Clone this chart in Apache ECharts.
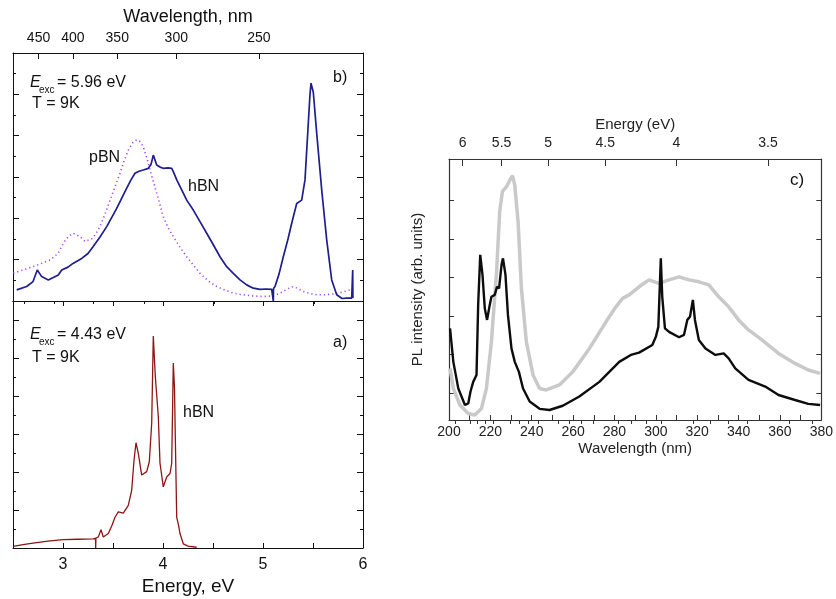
<!DOCTYPE html>
<html>
<head>
<meta charset="utf-8">
<script src="https://cdn.jsdelivr.net/npm/echarts@6/dist/echarts.min.js"></script>
<style>html,body{margin:0;padding:0;background:#fff}#c{width:836px;height:599px}</style>
</head>
<body>
<div id="c"></div>
<script>
// ---- Panel b) : Eexc = 5.96 eV (energy eV, intensity arb.)
const bHbnE = [2.537,2.637,2.70,2.743,2.787,2.853,2.953,2.987,3.05,3.10,3.187,3.25,3.30,3.37,3.437,3.537,3.637,3.68,3.72,3.76,3.803,3.853,3.88,3.903,3.937,3.97,4.003,4.05,4.087,4.103,4.14,4.187,4.237,4.303,4.37,4.437,4.503,4.57,4.637,4.703,4.77,4.837,4.903,4.97,5.03,5.087,5.103,5.105,5.12,5.16,5.203,5.25,5.287,5.337,5.387,5.42,5.453,5.47,5.48,5.49,5.503,5.537,5.587,5.637,5.687,5.737,5.79,5.837,5.887,5.897,5.899];
const bHbnI = [0.27,0.35,0.47,0.75,0.59,0.51,0.63,0.75,0.82,0.91,1.03,1.15,1.31,1.55,1.80,2.24,2.73,2.93,3.09,3.14,3.17,3.21,3.30,3.53,3.29,3.24,3.21,3.22,3.21,3.13,2.92,2.69,2.44,2.20,1.92,1.64,1.36,1.07,0.83,0.67,0.51,0.39,0.31,0.28,0.29,0.28,0.0,0.30,0.35,0.65,1.07,1.50,1.88,2.36,2.44,2.93,4.30,5.00,5.27,5.25,5.05,4.06,2.69,1.48,0.51,0.15,0.06,0.07,0.07,0.75,0.07];
const bPbnE = [2.503,2.60,2.70,2.87,2.95,3.003,3.05,3.10,3.17,3.22,3.30,3.37,3.42,3.47,3.52,3.57,3.61,3.653,3.70,3.737,3.77,3.803,3.84,3.87,3.937,4.003,4.05,4.103,4.17,4.237,4.37,4.45,4.537,4.62,4.703,4.80,4.903,5.0,5.103,5.15,5.203,5.25,5.303,5.35,5.403,5.47,5.537,5.62,5.703,5.79,5.87];
const bPbnI = [0.67,0.75,0.83,0.99,1.15,1.40,1.55,1.64,1.56,1.44,1.52,1.80,2.10,2.44,2.76,3.09,3.38,3.65,3.84,3.90,3.86,3.73,3.45,3.17,2.61,2.04,1.78,1.56,1.30,1.07,0.67,0.49,0.35,0.26,0.19,0.15,0.12,0.11,0.12,0.17,0.23,0.30,0.35,0.30,0.23,0.18,0.15,0.15,0.17,0.21,0.27];
// ---- Panel a) : Eexc = 4.43 eV
const aHbnE = [2.503,2.60,2.70,2.85,3.0,3.15,3.30,3.325,3.327,3.329,3.353,3.38,3.403,3.453,3.49,3.52,3.553,3.603,3.653,3.687,3.71,3.73,3.753,3.787,3.837,3.863,3.887,3.903,3.923,3.953,3.97,4.003,4.037,4.07,4.087,4.103,4.115,4.123,4.137,4.155,4.17,4.203,4.25,4.337];
const aHbnI = [0.04,0.09,0.13,0.18,0.22,0.23,0.24,0.25,0.0,0.26,0.29,0.48,0.29,0.38,0.60,0.81,0.95,0.92,1.12,1.52,2.31,2.77,2.49,1.92,2.01,2.27,3.29,5.58,4.52,3.46,2.23,1.61,1.87,1.96,2.23,4.87,4.20,2.93,0.81,0.60,0.38,0.11,0.05,0.02];
// ---- Panel c) : wavelength nm
const cBlackNm = [200.5,202.1,204.5,207.7,209.3,210.4,211.7,213.3,214.1,215.1,216.2,217.3,218.4,219.7,220.5,222.1,223.2,224.2,225.4,226.1,227.3,228.5,230.2,231.8,233.8,235.8,239.0,243.8,248.6,255.0,263.0,272.7,282.3,287.9,291.9,298.3,300.0,301.2,302.4,303.1,304.4,306.4,311.2,313.6,315.2,316.5,317.9,318.9,320.8,324.0,328.8,332.8,335.2,338.4,344.8,352.9,359.3,367.3,373.7,379.4];
const cBlackI = [2.38,1.51,0.82,0.39,0.43,0.74,0.99,1.17,2.99,4.29,3.77,2.90,2.60,2.99,3.20,3.25,3.46,3.42,4.03,4.20,3.77,2.73,1.86,1.51,1.25,0.82,0.48,0.29,0.26,0.37,0.61,0.99,1.51,1.69,1.75,1.95,2.16,2.42,4.20,3.20,2.38,2.29,2.15,2.21,2.60,2.68,3.12,2.60,2.08,1.86,1.69,1.73,1.60,1.34,1.04,0.87,0.65,0.52,0.42,0.39];
const cGrayNm = [200.5,202.1,205.3,209.3,212.5,215.7,218.1,220.5,223.0,224.5,225.8,227.8,229.4,230.7,231.8,233.4,235.0,237.4,240.6,243.8,247.0,253.4,259.8,267.9,275.9,280.7,283.9,287.1,291.9,296.7,301.5,306.4,311.2,316.0,320.8,325.6,330.4,335.2,340.0,344.8,351.3,359.3,367.3,373.7,379.4];
const cGrayI = [1.34,0.82,0.39,0.17,0.13,0.30,0.82,2.03,3.85,5.41,5.93,6.06,6.23,6.35,6.10,5.15,3.42,2.03,1.17,0.82,0.78,0.91,1.25,1.86,2.55,2.94,3.16,3.25,3.46,3.64,3.55,3.64,3.72,3.64,3.59,3.51,3.20,2.94,2.60,2.34,2.08,1.73,1.47,1.30,1.21];
// ---- tick labels
const wavelengthMajor = [450,400,350,300,250];
const wavelengthMinor = [475,425,375,325,275,225];
const energyMajor = [6,5.5,5,4.5,4,3.5];
const energyMinor = [6.1,5.9,5.8,5.7,5.6,5.4,5.3,5.2,5.1,4.9,4.8,4.7,4.6,4.4,4.3,4.2,4.1,3.9,3.8,3.7,3.6,3.4,3.3];
const cYTicks = [0.7,1.7,2.7,3.7,4.7,5.7];

const HC = 1239.84;
const FONT = 'Liberation Sans, Arial, sans-serif';
const zip = (xs, ys) => xs.map((x, i) => [x, ys[i]]);
const frameL = {show:true, onZero:false, lineStyle:{color:'#111', width:1}};
const frameR = {show:true, onZero:false, lineStyle:{color:'#333', width:1.2}};

const chart = echarts.init(document.getElementById('c'), null, {renderer:'canvas'});
const option = {
  animation:false,
  backgroundColor:'#fff',
  grid:[
    {left:13, top:53, width:350, height:248},
    {left:13, top:301, width:350, height:247},
    {left:449, top:159, width:374, height:261}
  ],
  xAxis:[
    {gridIndex:0, type:'value', position:'bottom', min:2.5, max:6, axisLine:frameL, axisTick:{show:false}, axisLabel:{show:false}, splitLine:{show:false}},
    {gridIndex:0, type:'value', position:'top', min:2.5, max:6, axisLine:frameL,
     name:'Wavelength, nm', nameLocation:'middle', nameGap:27, nameTextStyle:{fontFamily:FONT, fontSize:18, color:'#111'},
     axisTick:{inside:true, length:6, lineStyle:{color:'#111'}, customValues: wavelengthMajor.map(w => HC / w)},
     axisLabel:{fontFamily:FONT, fontSize:14, color:'#111', margin:8, customValues: wavelengthMajor.map(w => HC / w), formatter: v => String(Math.round(HC / v))},
     splitLine:{show:false}},
    {gridIndex:0, type:'value', position:'top', min:2.5, max:6, axisLine:{show:false},
     axisTick:{inside:true, length:3, lineStyle:{color:'#111'}, customValues: wavelengthMinor.map(w => HC / w)},
     axisLabel:{show:false}, splitLine:{show:false}},
    {gridIndex:1, type:'value', position:'bottom', min:2.5, max:6, interval:0.5, axisLine:frameL,
     name:'Energy, eV', nameLocation:'middle', nameGap:29, nameTextStyle:{fontFamily:FONT, fontSize:19, color:'#111'},
     axisTick:{inside:true, length:5, lineStyle:{color:'#111'}},
     axisLabel:{fontFamily:FONT, fontSize:16, color:'#111', margin:9, showMinLabel:true, showMaxLabel:true, formatter: v => (Math.abs(v - Math.round(v)) < 1e-6 && v > 2.5) ? String(Math.round(v)) : ''},
     splitLine:{show:false}},
    {gridIndex:1, type:'value', position:'top', min:2.5, max:6, interval:0.5, axisLine:frameL,
     axisTick:{inside:true, length:5, lineStyle:{color:'#111'}}, axisLabel:{show:false}, splitLine:{show:false}},
    {gridIndex:2, type:'value', position:'bottom', min:200, max:380, interval:10, axisLine:frameR,
     name:'Wavelength (nm)', nameLocation:'middle', nameGap:21, nameTextStyle:{fontFamily:FONT, fontSize:15, color:'#222'},
     axisTick:{inside:true, length:5, lineStyle:{color:'#333'}},
     axisLabel:{fontFamily:FONT, fontSize:14, color:'#222', margin:5, showMinLabel:true, showMaxLabel:true, formatter: v => (Math.round(v) % 20 === 0) ? String(Math.round(v)) : ''},
     splitLine:{show:false}},
    {gridIndex:2, type:'value', position:'top', min:200, max:380, axisLine:frameR,
     name:'Energy (eV)', nameLocation:'middle', nameGap:27, nameTextStyle:{fontFamily:FONT, fontSize:15, color:'#222'},
     axisTick:{inside:true, length:7, lineStyle:{color:'#333'}, customValues: energyMajor.map(e => HC / e)},
     axisLabel:{fontFamily:FONT, fontSize:14, color:'#222', margin:9, customValues: energyMajor.map(e => HC / e), formatter: v => String(Math.round(HC / v * 10) / 10)},
     splitLine:{show:false}},
    {gridIndex:2, type:'value', position:'top', min:200, max:380, axisLine:{show:false},
     axisTick:{inside:true, length:4, lineStyle:{color:'#333'}, customValues: energyMinor.map(e => HC / e)},
     axisLabel:{show:false}, splitLine:{show:false}}
  ],
  yAxis:[
    {gridIndex:0, type:'value', position:'left', min:0, max:6, interval:1, axisLine:frameL, axisTick:{inside:true, length:6, lineStyle:{color:'#111'}}, minorTick:{show:true, splitNumber:2, length:3, lineStyle:{color:'#111'}}, axisLabel:{show:false}, splitLine:{show:false}},
    {gridIndex:0, type:'value', position:'right', min:0, max:6, interval:1, axisLine:frameL, axisTick:{inside:true, length:6, lineStyle:{color:'#111'}}, minorTick:{show:true, splitNumber:2, length:3, lineStyle:{color:'#111'}}, axisLabel:{show:false}, splitLine:{show:false}},
    {gridIndex:1, type:'value', position:'left', min:0, max:6.5, interval:1, axisLine:frameL, axisTick:{inside:true, length:6, lineStyle:{color:'#111'}}, minorTick:{show:true, splitNumber:2, length:3, lineStyle:{color:'#111'}}, axisLabel:{show:false}, splitLine:{show:false}},
    {gridIndex:1, type:'value', position:'right', min:0, max:6.5, interval:1, axisLine:frameL, axisTick:{inside:true, length:6, lineStyle:{color:'#111'}}, minorTick:{show:true, splitNumber:2, length:3, lineStyle:{color:'#111'}}, axisLabel:{show:false}, splitLine:{show:false}},
    {gridIndex:2, type:'value', position:'left', min:0, max:6.78, axisLine:frameR,
     name:'PL intensity (arb. units)', nameLocation:'middle', nameGap:24, nameTextStyle:{fontFamily:FONT, fontSize:15, color:'#222'},
     axisTick:{inside:true, length:5, lineStyle:{color:'#333'}, customValues:cYTicks}, axisLabel:{show:false}, splitLine:{show:false}},
    {gridIndex:2, type:'value', position:'right', min:0, max:6.78, axisLine:frameR,
     axisTick:{inside:true, length:5, lineStyle:{color:'#333'}, customValues:cYTicks}, axisLabel:{show:false}, splitLine:{show:false}}
  ],
  series:[
    {type:'line', xAxisIndex:0, yAxisIndex:0, data:zip(bPbnE, bPbnI), showSymbol:false, symbol:'none', lineStyle:{color:'#a344f5', width:1.6, type:[1.2,3]}, z:2},
    {type:'line', xAxisIndex:0, yAxisIndex:0, data:zip(bHbnE, bHbnI), showSymbol:false, symbol:'none', lineStyle:{color:'#1e1e8c', width:1.7}, z:3},
    {type:'line', xAxisIndex:3, yAxisIndex:2, data:zip(aHbnE, aHbnI), showSymbol:false, symbol:'none', lineStyle:{color:'#8e1515', width:1.3}, z:3},
    {type:'line', xAxisIndex:5, yAxisIndex:4, data:zip(cGrayNm, cGrayI), showSymbol:false, symbol:'none', lineStyle:{color:'#c9c9c9', width:3.5}, z:2},
    {type:'line', xAxisIndex:5, yAxisIndex:4, data:zip(cBlackNm, cBlackI), showSymbol:false, symbol:'none', lineStyle:{color:'#0d0d0d', width:2.4}, z:3}
  ],
  graphic:[
    {type:'text', x:30, y:83, style:{text:'E', font:'italic 16px ' + FONT, fill:'#111', verticalAlign:'middle'}},
    {type:'text', x:39, y:90, style:{text:'exc', font:'10px ' + FONT, fill:'#111', verticalAlign:'middle'}},
    {type:'text', x:57, y:83, style:{text:'= 5.96 eV', font:'16px ' + FONT, fill:'#111', verticalAlign:'middle'}},
    {type:'text', x:32, y:104, style:{text:'T = 9K', font:'16px ' + FONT, fill:'#111', verticalAlign:'middle'}},
    {type:'text', x:333, y:78, style:{text:'b)', font:'16px ' + FONT, fill:'#111', verticalAlign:'middle'}},
    {type:'text', x:89, y:158, style:{text:'pBN', font:'16px ' + FONT, fill:'#111', verticalAlign:'middle'}},
    {type:'text', x:188, y:187, style:{text:'hBN', font:'16px ' + FONT, fill:'#111', verticalAlign:'middle'}},
    {type:'text', x:30, y:335, style:{text:'E', font:'italic 16px ' + FONT, fill:'#111', verticalAlign:'middle'}},
    {type:'text', x:39, y:342, style:{text:'exc', font:'10px ' + FONT, fill:'#111', verticalAlign:'middle'}},
    {type:'text', x:57, y:335, style:{text:'= 4.43 eV', font:'16px ' + FONT, fill:'#111', verticalAlign:'middle'}},
    {type:'text', x:32, y:358, style:{text:'T = 9K', font:'16px ' + FONT, fill:'#111', verticalAlign:'middle'}},
    {type:'text', x:333, y:343, style:{text:'a)', font:'16px ' + FONT, fill:'#111', verticalAlign:'middle'}},
    {type:'text', x:183, y:413, style:{text:'hBN', font:'16px ' + FONT, fill:'#111', verticalAlign:'middle'}},
    {type:'text', x:790, y:180, style:{text:'c)', font:'17px ' + FONT, fill:'#111', verticalAlign:'middle'}}
  ]
};
chart.setOption(option);
</script>
</body>
</html>
